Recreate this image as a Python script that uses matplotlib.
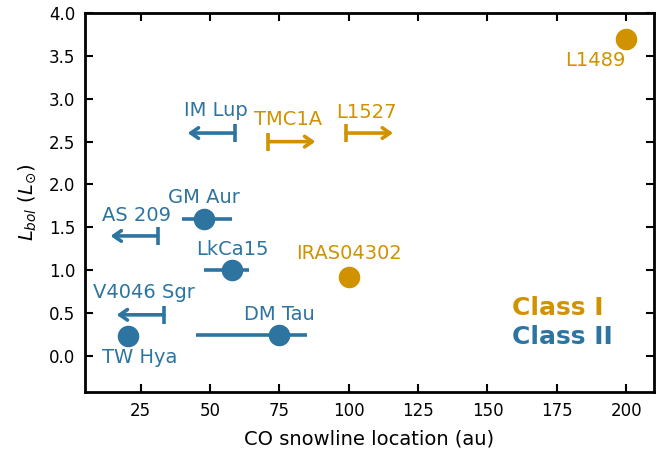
import matplotlib
matplotlib.use("Agg")
import matplotlib.pyplot as plt

BLUE = "#2D74A0"
GOLD = "#D19200"

# Class I detections
c1_names = ["L1489", "IRAS04302"]
c1_x = [200, 100]
c1_y = [3.7, 0.92]

# Class I lower limits on the snowline radius
c1_lim_names = ["TMC1A", "L1527"]
c1_lim_x = [71, 99]
c1_lim_y = [2.5, 2.6]

# Class II detections with asymmetric x errors
c2_names = ["GM Aur", "LkCa15", "DM Tau", "TW Hya"]
c2_x = [48, 58, 75, 20.6]
c2_y = [1.6, 1.0, 0.24, 0.23]
c2_xerr_lo = [8, 10, 30, 0]
c2_xerr_hi = [10, 6, 10, 0]

# Class II upper limits on the snowline radius
c2_lim_names = ["IM Lup", "AS 209", "V4046 Sgr"]
c2_lim_x = [59, 31.2, 33.4]
c2_lim_y = [2.6, 1.4, 0.48]

ARROW_LEN = 17

fig = plt.figure(figsize=(6.6, 4.5), dpi=100)
ax = fig.add_axes([85 / 660, 1 - 392 / 450, 569 / 660, 379 / 450])

lab_fs = 14


def limit_arrow(x, y, direction, color):
    end = x + direction * ARROW_LEN
    ax.annotate("", xy=(end, y), xytext=(x, y),
                arrowprops=dict(arrowstyle="->,head_length=0.55,head_width=0.38",
                                lw=2.6, color=color, shrinkA=0, shrinkB=0))
    ax.plot([x], [y], marker="|", ms=12.5, mew=2.6, color=color)


ax.errorbar(c2_x, c2_y, xerr=[c2_xerr_lo, c2_xerr_hi], fmt="o", ms=14.5,
            color=BLUE, ecolor=BLUE, elinewidth=2.6, capsize=0, zorder=3)
ax.plot(c1_x, c1_y, "o", ms=14.5, color=GOLD, zorder=3)

for x, y in zip(c2_lim_x, c2_lim_y):
    limit_arrow(x, y, -1, BLUE)
for x, y in zip(c1_lim_x, c1_lim_y):
    limit_arrow(x, y, 1, GOLD)


def label(name, x, y, dx, dy, color):
    ax.annotate(name, xy=(x, y), xytext=(dx, dy), textcoords="offset points",
                ha="center", va="center", fontsize=lab_fs, color=color)


label(c1_names[0], c1_x[0], c1_y[0], -22, -16, GOLD)
label(c1_names[1], c1_x[1], c1_y[1], 0, 17, GOLD)
label(c1_lim_names[0], c1_lim_x[0], c1_lim_y[0], 14, 16, GOLD)
label(c1_lim_names[1], c1_lim_x[1], c1_lim_y[1], 15, 15, GOLD)

label(c2_names[0], c2_x[0], c2_y[0], 0, 15, BLUE)
label(c2_names[1], c2_x[1], c2_y[1], 0, 15, BLUE)
label(c2_names[2], c2_x[2], c2_y[2], 0, 15, BLUE)
label(c2_names[3], c2_x[3], c2_y[3], 8, -15, BLUE)
label(c2_lim_names[0], c2_lim_x[0], c2_lim_y[0], -14, 16, BLUE)
label(c2_lim_names[1], c2_lim_x[1], c2_lim_y[1], -15, 15, BLUE)
label(c2_lim_names[2], c2_lim_x[2], c2_lim_y[2], -14, 16, BLUE)

ax.text(0.75, 0.222, "Class I", transform=ax.transAxes, fontsize=18,
        fontweight="bold", color=GOLD, ha="left", va="center")
ax.text(0.75, 0.145, "Class II", transform=ax.transAxes, fontsize=18,
        fontweight="bold", color=BLUE, ha="left", va="center")

ax.set_xlim(5, 210)
ax.set_ylim(-0.42, 4.0)
ax.set_xticks([25, 50, 75, 100, 125, 150, 175, 200])
ax.set_yticks([0.0, 0.5, 1.0, 1.5, 2.0, 2.5, 3.0, 3.5, 4.0])
ax.set_yticklabels([f"{v:.1f}" for v in ax.get_yticks()])
ax.tick_params(direction="in", length=6, width=1.5, labelsize=12,
               top=True, right=True, pad=7)
for sp in ax.spines.values():
    sp.set_linewidth(2)

ax.set_xlabel("CO snowline location (au)", fontsize=14, labelpad=7)
ax.set_ylabel(r"$L_{bol}\ (L_{\odot})$", fontsize=14, labelpad=8)

fig.savefig("out.png", dpi=100)
